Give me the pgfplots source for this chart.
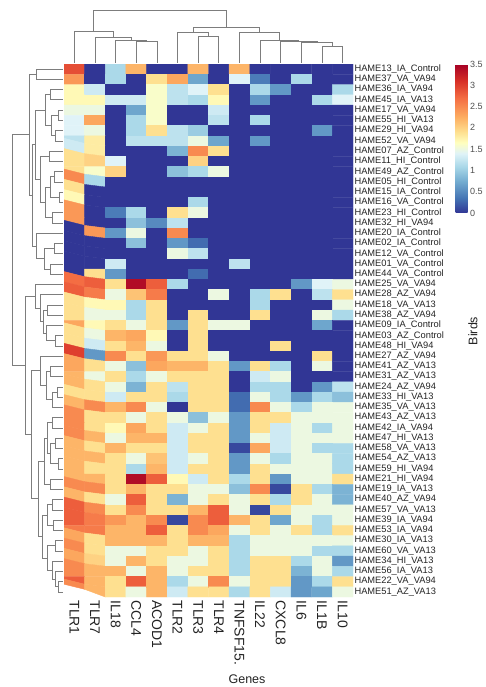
\documentclass[border=0pt]{standalone}
\usepackage{fontspec}
\setmainfont{Liberation Sans}
\usepackage{pgfplots}
\pgfplotsset{compat=1.18}
\definecolor{dendro}{RGB}{125,125,125}
\definecolor{lab}{RGB}{35,35,35}
\pgfplotsset{dend/.style={draw=dendro, line width=0.75pt, mark=none}}
\begin{document}
\begin{tikzpicture}[x=1pt,y=1pt]
\useasboundingbox (0,0) rectangle (485,687);
\begin{axis}[
  at={(64pt,90pt)}, anchor=south west,
  width=289pt, height=533pt, scale only axis,
  xmin=-0.5, xmax=13.5, ymin=-0.5, ymax=51.5, y dir=reverse,
  axis line style={draw=none}, major tick length=0pt,
  xtick={0,...,13},
  xticklabels={TLR1,TLR7,IL18,CCL4,ACOD1,TLR2,TLR3,TLR4,TNFSF15.,IL22,CXCL8,IL6,IL1B,IL10},
  xticklabel style={rotate=-90, anchor=west, font=\fontsize{14}{14}\selectfont, text=lab},
  ytick={0,...,51}, yticklabel pos=right,
  yticklabels={HAME13\_IA\_Control, HAME37\_VA\_VA94, HAME36\_IA\_VA94, HAME45\_IA\_VA13, HAME17\_VA\_VA94, HAME55\_HI\_VA13, HAME29\_HI\_VA94, HAME52\_VA\_VA94, HAME07\_AZ\_Control, HAME11\_HI\_Control, HAME49\_AZ\_Control, HAME05\_HI\_Control, HAME15\_IA\_Control, HAME16\_VA\_Control, HAME23\_HI\_Control, HAME32\_HI\_VA94, HAME20\_IA\_Control, HAME02\_IA\_Control, HAME12\_VA\_Control, HAME01\_VA\_Control, HAME44\_VA\_Control, HAME25\_VA\_VA94, HAME28\_AZ\_VA94, HAME18\_VA\_VA13, HAME38\_AZ\_VA94, HAME09\_IA\_Control, HAME03\_AZ\_Control, HAME48\_HI\_VA94, HAME27\_AZ\_VA94, HAME41\_AZ\_VA13, HAME31\_AZ\_VA13, HAME24\_AZ\_VA94, HAME33\_HI\_VA13, HAME35\_VA\_VA13, HAME43\_AZ\_VA13, HAME42\_IA\_VA94, HAME47\_HI\_VA13, HAME58\_VA\_VA13, HAME54\_AZ\_VA13, HAME59\_HI\_VA94, HAME21\_HI\_VA94, HAME19\_IA\_VA13, HAME40\_AZ\_VA94, HAME57\_VA\_VA13, HAME39\_IA\_VA94, HAME53\_IA\_VA94, HAME30\_IA\_VA13, HAME60\_VA\_VA13, HAME34\_HI\_VA13, HAME56\_IA\_VA13, HAME22\_VA\_VA94, HAME51\_AZ\_VA13},
  yticklabel style={font=\fontsize{9.3}{10}\selectfont, text=lab, xshift=-2pt},
  colormap={rdylbu}{rgb255(0)=(49,54,149) rgb255(7)=(69,117,180) rgb255(15)=(116,173,209) rgb255(22)=(171,217,233) rgb255(28)=(224,243,248) rgb255(33)=(255,255,191) rgb255(38)=(254,224,144) rgb255(45)=(253,174,97) rgb255(54)=(244,109,67) rgb255(62)=(215,48,39) rgb255(70)=(165,0,38)},
  point meta min=0, point meta max=3.5,
  colorbar,
  colorbar style={at={(parent axis.north east)}, anchor=north west, xshift=94pt,
    width=12pt, height=149pt, scale only axis,
    axis line style={draw=none}, major tick length=0pt,
    ytick={0,0.5,1,1.5,2,2.5,3,3.5},
    yticklabel style={font=\fontsize{9}{9}\selectfont, text=lab!80, /pgf/number format/assume math mode=true, xshift=-1pt}},
]
\addplot[matrix plot*, draw=none, mesh/cols=14, point meta=explicit]
 table[x expr={mod(\coordindex,14)}, y expr={floor(\coordindex/14)}, meta=c, row sep=\\] {
c\\
2.9\\ 0\\ 1.1\\ 2.2\\ 0\\ 0\\ 2.2\\ 0\\ 2.2\\ 0\\ 0\\ 0\\ 0\\ 0\\
2.4\\ 0\\ 1.1\\ 0\\ 1.9\\ 2.3\\ 0.7\\ 0\\ 1.4\\ 0.4\\ 0\\ 1.1\\ 0\\ 0\\
1.7\\ 1.3\\ 0\\ 0\\ 1.6\\ 1.2\\ 1.4\\ 1.9\\ 0\\ 1.1\\ 0.6\\ 0\\ 0\\ 1.1\\
1.7\\ 1.7\\ 1.3\\ 1.3\\ 1.6\\ 1.2\\ 1.1\\ 1.7\\ 0\\ 0.6\\ 0\\ 0\\ 1.1\\ 1.4\\
1.5\\ 1.5\\ 0\\ 0.7\\ 1.6\\ 0\\ 0\\ 1.3\\ 0\\ 0\\ 0\\ 0\\ 0\\ 0\\
1.4\\ 2.3\\ 0\\ 1.1\\ 1.6\\ 0\\ 0\\ 1.2\\ 0\\ 1.1\\ 0\\ 0\\ 0\\ 0\\
1.4\\ 1.5\\ 0\\ 1.1\\ 1.9\\ 1.2\\ 1.0\\ 0\\ 0\\ 0\\ 0\\ 0\\ 0.6\\ 0\\
1.2\\ 1.8\\ 0\\ 1.2\\ 1.2\\ 1.2\\ 1.5\\ 0.7\\ 0\\ 0.6\\ 0\\ 0\\ 0\\ 0\\
1.3\\ 1.8\\ 0\\ 0\\ 0\\ 0.8\\ 2.5\\ 1.9\\ 0\\ 0\\ 0\\ 0\\ 0\\ 0\\
1.9\\ 2.0\\ 1.4\\ 0\\ 0\\ 0\\ 2.0\\ 0\\ 0\\ 0\\ 0\\ 0\\ 0\\ 0\\
1.9\\ 1.6\\ 2.0\\ 0\\ 0\\ 0.9\\ 1.1\\ 1.5\\ 0\\ 0\\ 0\\ 0\\ 0\\ 0\\
2.5\\ 1.1\\ 0\\ 0\\ 0\\ 0\\ 0\\ 0\\ 0\\ 0\\ 0\\ 0\\ 0\\ 0\\
1.9\\ 0\\ 0\\ 0\\ 0\\ 0\\ 0\\ 0\\ 0\\ 0\\ 0\\ 0\\ 0\\ 0\\
1.7\\ 0\\ 0\\ 0\\ 0\\ 0\\ 1.1\\ 0\\ 0\\ 0\\ 0\\ 0\\ 0\\ 0\\
2.4\\ 0\\ 0.4\\ 1.1\\ 0\\ 1.9\\ 1.5\\ 0\\ 0\\ 0\\ 0\\ 0\\ 0\\ 0\\
2.4\\ 0\\ 0\\ 0.9\\ 0.5\\ 1.2\\ 0\\ 0\\ 0\\ 0\\ 0\\ 0\\ 0\\ 0\\
0\\ 2.4\\ 0.6\\ 1.5\\ 0\\ 2.5\\ 0\\ 0\\ 0\\ 0\\ 0\\ 0\\ 0\\ 0\\
0\\ 0\\ 0\\ 0.9\\ 0\\ 0.6\\ 0.3\\ 0\\ 0\\ 0\\ 0\\ 0\\ 0\\ 0\\
0\\ 0\\ 0\\ 0\\ 0\\ 1.5\\ 1.2\\ 0\\ 0\\ 0\\ 0\\ 0\\ 0\\ 0\\
0\\ 0\\ 1.3\\ 0\\ 0\\ 0\\ 0\\ 0\\ 1.2\\ 0\\ 0\\ 0\\ 0\\ 0\\
0\\ 1.9\\ 0.6\\ 0\\ 0\\ 0\\ 0.3\\ 0\\ 0\\ 0\\ 0\\ 0\\ 0\\ 0\\
2.7\\ 2.8\\ 1.9\\ 3.4\\ 2.8\\ 1.1\\ 0\\ 0\\ 0\\ 0\\ 0\\ 0.6\\ 1.4\\ 1.5\\
2.8\\ 2.6\\ 1.5\\ 2.1\\ 2.6\\ 0\\ 0\\ 1.5\\ 0\\ 1.1\\ 1.9\\ 0\\ 1.2\\ 1.9\\
1.9\\ 1.7\\ 1.7\\ 1.1\\ 1.9\\ 0\\ 0\\ 0\\ 0\\ 1.1\\ 0\\ 0\\ 0\\ 1.5\\
1.9\\ 1.5\\ 1.5\\ 1.1\\ 1.9\\ 0\\ 1.9\\ 0\\ 0\\ 1.9\\ 0\\ 0\\ 1.5\\ 1.1\\
2.3\\ 1.7\\ 1.9\\ 1.5\\ 1.9\\ 0.6\\ 1.9\\ 1.5\\ 1.5\\ 0\\ 0\\ 0\\ 0.7\\ 0\\
1.9\\ 1.5\\ 2.2\\ 2.3\\ 1.7\\ 0\\ 1.9\\ 0\\ 0\\ 0\\ 0\\ 0\\ 0\\ 0\\
1.9\\ 1.3\\ 1.9\\ 2.2\\ 1.5\\ 0\\ 1.9\\ 0\\ 0\\ 0\\ 1.9\\ 0\\ 0\\ 0\\
3.0\\ 0.6\\ 2.5\\ 1.9\\ 2.4\\ 1.9\\ 1.9\\ 1.5\\ 0\\ 0\\ 0\\ 0\\ 1.9\\ 0\\
2.3\\ 1.9\\ 1.5\\ 0.9\\ 2.3\\ 2.2\\ 2.2\\ 1.9\\ 0.6\\ 1.9\\ 1.1\\ 0\\ 1.5\\ 0\\
2.2\\ 1.5\\ 1.9\\ 1.1\\ 1.5\\ 1.9\\ 1.9\\ 1.9\\ 0\\ 1.3\\ 1.5\\ 0\\ 0\\ 0\\
2.2\\ 1.9\\ 1.5\\ 0.8\\ 1.9\\ 1.2\\ 1.9\\ 1.9\\ 0\\ 1.1\\ 1.1\\ 0\\ 0.6\\ 1.2\\
1.9\\ 1.9\\ 1.3\\ 1.9\\ 1.9\\ 1.1\\ 1.9\\ 1.9\\ 0.3\\ 1.5\\ 1.1\\ 0.6\\ 1.1\\ 0.9\\
2.2\\ 2.5\\ 2.2\\ 2.5\\ 1.5\\ 0\\ 1.9\\ 1.9\\ 0.3\\ 2.5\\ 1.5\\ 1.1\\ 1.5\\ 1.5\\
2.5\\ 1.9\\ 1.9\\ 1.5\\ 1.9\\ 1.5\\ 0.9\\ 1.5\\ 0.6\\ 1.9\\ 1.9\\ 1.5\\ 1.5\\ 1.5\\
2.5\\ 1.9\\ 1.7\\ 2.3\\ 1.9\\ 1.3\\ 1.5\\ 1.9\\ 0.6\\ 1.9\\ 1.3\\ 1.5\\ 1.1\\ 1.5\\
2.5\\ 2.2\\ 1.5\\ 2.2\\ 2.2\\ 1.3\\ 1.9\\ 1.9\\ 0.6\\ 1.5\\ 1.3\\ 1.5\\ 1.5\\ 1.5\\
2.2\\ 1.9\\ 2.2\\ 1.9\\ 1.9\\ 1.3\\ 1.9\\ 1.9\\ 0.1\\ 2.3\\ 1.3\\ 1.5\\ 1.1\\ 1.1\\
2.2\\ 2.2\\ 1.9\\ 1.5\\ 2.1\\ 1.3\\ 1.5\\ 1.9\\ 0.6\\ 1.5\\ 1.1\\ 1.5\\ 1.5\\ 1.1\\
2.2\\ 1.9\\ 1.9\\ 1.1\\ 2.2\\ 1.3\\ 1.9\\ 1.9\\ 0.6\\ 1.9\\ 1.5\\ 1.5\\ 1.5\\ 1.1\\
2.2\\ 2.2\\ 1.9\\ 3.4\\ 2.8\\ 1.7\\ 1.3\\ 1.9\\ 1.1\\ 1.9\\ 0.6\\ 1.5\\ 1.5\\ 1.9\\
2.5\\ 2.5\\ 1.9\\ 2.2\\ 1.9\\ 1.9\\ 1.5\\ 1.5\\ 0.9\\ 2.5\\ 0.1\\ 1.9\\ 1.1\\ 0.8\\
2.2\\ 1.9\\ 1.5\\ 2.8\\ 1.9\\ 0.8\\ 1.5\\ 1.9\\ 1.5\\ 1.9\\ 1.1\\ 1.9\\ 1.5\\ 0.8\\
2.8\\ 2.5\\ 1.9\\ 2.5\\ 1.9\\ 1.9\\ 2.2\\ 2.8\\ 1.5\\ 0.1\\ 1.9\\ 1.5\\ 1.5\\ 1.5\\
2.8\\ 2.6\\ 2.4\\ 2.2\\ 2.5\\ 0.1\\ 2.5\\ 2.8\\ 2.2\\ 1.9\\ 0.7\\ 1.5\\ 1.1\\ 1.5\\
2.6\\ 2.6\\ 2.2\\ 2.2\\ 2.8\\ 1.9\\ 2.5\\ 2.3\\ 1.5\\ 1.9\\ 1.5\\ 1.9\\ 1.1\\ 1.9\\
2.3\\ 1.9\\ 2.2\\ 2.2\\ 2.2\\ 1.9\\ 2.2\\ 2.2\\ 1.1\\ 1.5\\ 1.5\\ 1.5\\ 1.5\\ 1.5\\
2.5\\ 1.9\\ 1.5\\ 1.5\\ 1.9\\ 1.9\\ 1.5\\ 1.9\\ 1.1\\ 1.5\\ 1.5\\ 1.5\\ 1.1\\ 1.1\\
2.3\\ 2.0\\ 1.5\\ 2.2\\ 1.9\\ 1.5\\ 1.5\\ 1.9\\ 1.1\\ 1.9\\ 1.9\\ 1.1\\ 1.5\\ 0.6\\
2.5\\ 2.2\\ 2.2\\ 1.5\\ 2.2\\ 1.5\\ 1.9\\ 1.9\\ 1.1\\ 1.9\\ 1.9\\ 0.8\\ 1.5\\ 1.1\\
2.8\\ 2.2\\ 1.9\\ 2.8\\ 2.2\\ 1.1\\ 1.5\\ 2.5\\ 1.5\\ 1.9\\ 1.9\\ 0.6\\ 1.1\\ 1.9\\
2.5\\ 2.2\\ 1.9\\ 1.5\\ 2.2\\ 1.3\\ 1.9\\ 1.9\\ 1.1\\ 1.9\\ 1.3\\ 0.6\\ 0.7\\ 1.5\\
};
\end{axis}
% top dendrogram
\begin{axis}[at={(64pt,624pt)}, anchor=south west, width=289pt, height=63pt, scale only axis,
  xmin=-0.5, xmax=13.5, ymin=0, ymax=63, y dir=reverse, hide axis, clip=false]
\addplot[dend] coordinates {(3,63)(3,41)(4,41)(4,63)};
\addplot[dend] coordinates {(2,63)(2,40)(3.5,40)(3.5,41)};
\addplot[dend] coordinates {(1,63)(1,37)(2.75,37)(2.75,40)};
\addplot[dend] coordinates {(0,63)(0,31)(1.875,31)(1.875,37)};
\addplot[dend] coordinates {(6,63)(6,36.7)(7,36.7)(7,63)};
\addplot[dend] coordinates {(5,63)(5,32.7)(6.5,32.7)(6.5,36.7)};
\addplot[dend] coordinates {(12,63)(12,46)(13,46)(13,63)};
\addplot[dend] coordinates {(11,63)(11,42.7)(12.5,42.7)(12.5,46)};
\addplot[dend] coordinates {(10,63)(10,41.7)(11.75,41.7)(11.75,42.7)};
\addplot[dend] coordinates {(9,63)(9,40)(10.875,40)(10.875,41.7)};
\addplot[dend] coordinates {(8,63)(8,32.3)(9.9375,32.3)(9.9375,40)};
\addplot[dend] coordinates {(5.75,32.7)(5.75,27)(8.96875,27)(8.96875,32.3)};
\addplot[dend] coordinates {(0.9375,31)(0.9375,10)(7.359,10)(7.359,27)};
\end{axis}
% left dendrogram
\begin{axis}[at={(0pt,90pt)}, anchor=south west, width=63pt, height=533pt, scale only axis,
  xmin=0, xmax=63, ymin=-0.5, ymax=51.5, y dir=reverse, hide axis, clip=false]
\addplot[dend] coordinates {(63,0)(36,0)(36,1)(63,1)};
\addplot[dend] coordinates {(63,2)(50,2)(50,3)(63,3)};
\addplot[dend] coordinates {(63,4)(58,4)(58,5)(63,5)};
\addplot[dend] coordinates {(63,6)(55,6)(55,7)(63,7)};
\addplot[dend] coordinates {(58,4.5)(51,4.5)(51,6.5)(55,6.5)};
\addplot[dend] coordinates {(50,2.5)(45,2.5)(45,5.5)(51,5.5)};
\addplot[dend] coordinates {(63,8)(49,8)(49,9)(63,9)};
\addplot[dend] coordinates {(63,10)(54,10)(54,11)(63,11)};
\addplot[dend] coordinates {(63,12)(59,12)(59,13)(63,13)};
\addplot[dend] coordinates {(54,10.5)(50,10.5)(50,12.5)(59,12.5)};
\addplot[dend] coordinates {(63,14)(52,14)(52,15)(63,15)};
\addplot[dend] coordinates {(50,11.5)(45,11.5)(45,14.5)(52,14.5)};
\addplot[dend] coordinates {(49,8.5)(40,8.5)(40,13)(45,13)};
\addplot[dend] coordinates {(45,4)(35,4)(35,10.75)(40,10.75)};
\addplot[dend] coordinates {(63,17)(54,17)(54,18)(63,18)};
\addplot[dend] coordinates {(63,19)(50,19)(50,20)(63,20)};
\addplot[dend] coordinates {(54,17.5)(44,17.5)(44,19.5)(50,19.5)};
\addplot[dend] coordinates {(63,16)(36,16)(36,18.5)(44,18.5)};
\addplot[dend] coordinates {(35,7.375)(32,7.375)(32,17.25)(36,17.25)};
\addplot[dend] coordinates {(36,0.5)(29,0.5)(29,12.3125)(32,12.3125)};
\addplot[dend] coordinates {(63,23)(47,23)(47,24)(63,24)};
\addplot[dend] coordinates {(63,26)(55,26)(55,27)(63,27)};
\addplot[dend] coordinates {(63,25)(46,25)(46,26.5)(55,26.5)};
\addplot[dend] coordinates {(47,23.5)(43,23.5)(43,25.75)(46,25.75)};
\addplot[dend] coordinates {(63,22)(40,22)(40,24.625)(43,24.625)};
\addplot[dend] coordinates {(63,21)(35,21)(35,23.3125)(40,23.3125)};
\addplot[dend] coordinates {(63,29)(50,29)(50,30)(63,30)};
\addplot[dend] coordinates {(63,31)(57,31)(57,32)(63,32)};
\addplot[dend] coordinates {(57,31.5)(52,31.5)(52,33)(63,33)};
\addplot[dend] coordinates {(50,29.5)(46,29.5)(46,32.25)(52,32.25)};
\addplot[dend] coordinates {(63,28)(40,28)(40,30.875)(46,30.875)};
\addplot[dend] coordinates {(63,34)(52,34)(52,35)(63,35)};
\addplot[dend] coordinates {(63,36)(55,36)(55,37)(63,37)};
\addplot[dend] coordinates {(63,38)(58,38)(58,39)(63,39)};
\addplot[dend] coordinates {(55,36.5)(50,36.5)(50,38.5)(58,38.5)};
\addplot[dend] coordinates {(52,34.5)(47,34.5)(47,37.5)(50,37.5)};
\addplot[dend] coordinates {(63,40)(50,40)(50,41)(63,41)};
\addplot[dend] coordinates {(47,36)(44,36)(44,40.5)(50,40.5)};
\addplot[dend] coordinates {(63,42)(52,42)(52,43)(63,43)};
\addplot[dend] coordinates {(63,44)(53,44)(53,45)(63,45)};
\addplot[dend] coordinates {(52,42.5)(47,42.5)(47,44.5)(53,44.5)};
\addplot[dend] coordinates {(63,50)(58,50)(58,51)(63,51)};
\addplot[dend] coordinates {(63,49)(55,49)(55,50.5)(58,50.5)};
\addplot[dend] coordinates {(63,48)(52,48)(52,49.75)(55,49.75)};
\addplot[dend] coordinates {(63,46)(55,46)(55,47)(63,47)};
\addplot[dend] coordinates {(55,46.5)(47,46.5)(47,48.875)(52,48.875)};
\addplot[dend] coordinates {(47,43.5)(42,43.5)(42,47.6875)(47,47.6875)};
\addplot[dend] coordinates {(44,38.25)(38,38.25)(38,45.59)(42,45.59)};
\addplot[dend] coordinates {(40,29.4375)(31,29.4375)(31,41.92)(38,41.92)};
\addplot[dend] coordinates {(35,22.156)(25,22.156)(25,35.68)(31,35.68)};
\addplot[dend] coordinates {(29,6.406)(12.7,6.406)(12.7,28.92)(25,28.92)};
\end{axis}
\node[rotate=90, font=\fontsize{12.5}{12.5}\selectfont, text=lab] at (473,356) {Birds};
\node[font=\fontsize{12.5}{12.5}\selectfont, text=lab] at (247,8) {Genes};
\end{tikzpicture}
\end{document}
